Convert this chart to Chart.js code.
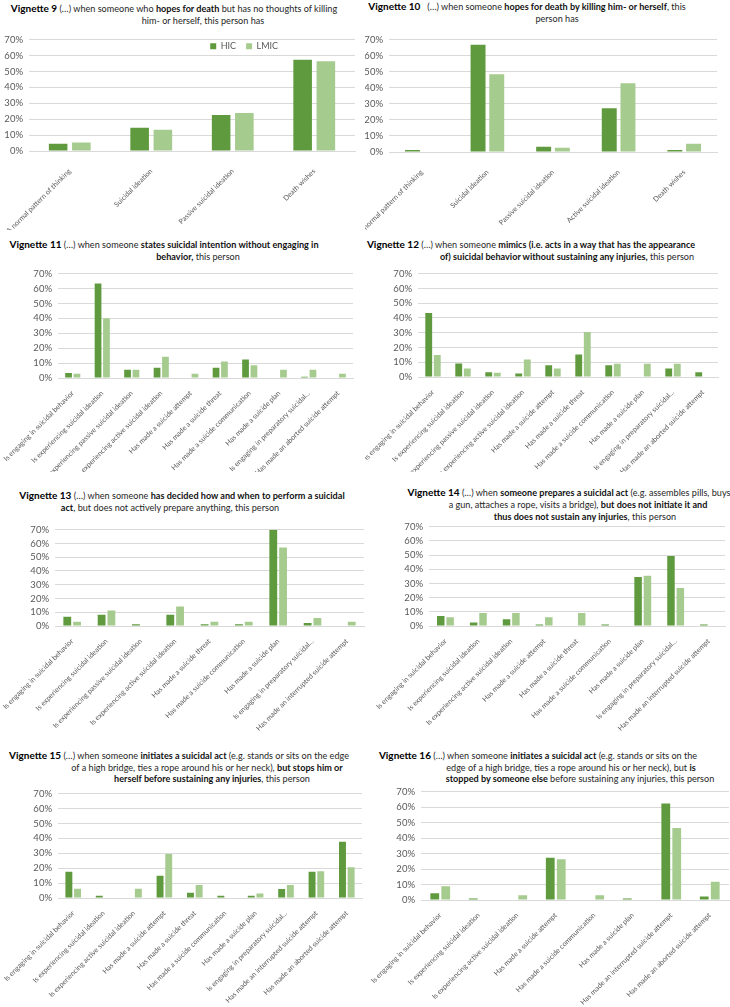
<!DOCTYPE html>
<html>
<head>
<meta charset="utf-8">
<script src="https://cdn.jsdelivr.net/npm/chart.js@4.4.1/dist/chart.umd.min.js"></script>
<style>
  body { margin: 0; background: #fff; width: 730px; height: 1007px; position: relative; overflow: hidden; font-family: Lato, "Open Sans", sans-serif; }
  .ln { position: absolute; transform: translate(-50%, -50%); white-space: nowrap; font-size: 9.1px; color: #262626; }
  .ln .v { font-weight: bold; font-size: 10px; color: #000; }
  .ln b { color: #111; }
  .box { position: absolute; }
</style>
</head>
<body>

<!-- titulos de cada vineta -->
<div class="ln" style="left:174px;top:7.5px"><span class="v">Vignette 9</span> (…) when someone who <b>hopes for death</b> but has no thoughts of killing</div>
<div class="ln" style="left:203px;top:19.5px">him- or herself, this person has</div>

<div class="ln" style="left:527px;top:5.5px"><span class="v">Vignette 10</span>&nbsp;&nbsp; (…) when someone <b>hopes for death by killing him- or herself</b>, this</div>
<div class="ln" style="left:557px;top:17.5px">person has</div>

<div class="ln" style="left:164px;top:244px"><span class="v">Vignette 11</span> (…) when someone <b>states suicidal intention without engaging in</b></div>
<div class="ln" style="left:198px;top:256px"><b>behavior,</b> this person</div>

<div class="ln" style="left:531px;top:244px"><span class="v">Vignette 12</span> (…) when someone <b>mimics (i.e. acts in a way that has the appearance</b></div>
<div class="ln" style="left:567px;top:256px"><b>of) suicidal behavior without sustaining any injuries,</b> this person</div>

<div class="ln" style="left:182px;top:495px"><span class="v">Vignette 13</span> (…) when someone <b>has decided how and when to perform a suicidal</b></div>
<div class="ln" style="left:170px;top:507px"><b>act</b>, but does not actively prepare anything, this person</div>

<div class="ln" style="left:569px;top:492px"><span class="v">Vignette 14</span> (…) when <b>someone prepares a suicidal act</b> (e.g. assembles pills, buys</div>
<div class="ln" style="left:578px;top:504px">a gun, attaches a rope, visits a bridge), <b>but does not initiate it and</b></div>
<div class="ln" style="left:585px;top:516px"><b>thus does not sustain any injuries</b>, this person</div>

<div class="ln" style="left:179px;top:755px"><span class="v">Vignette 15</span> (…) when someone <b>initiates a suicidal act</b> (e.g. stands or sits on the edge</div>
<div class="ln" style="left:207px;top:767px">of a high bridge, ties a rope around his or her neck), <b>but stops him or</b></div>
<div class="ln" style="left:212px;top:778px"><b>herself before sustaining any injuries</b>, this person</div>

<div class="ln" style="left:538px;top:755px"><span class="v">Vignette 16</span> (…) when someone <b>initiates a suicidal act</b> (e.g. stands or sits on the</div>
<div class="ln" style="left:571px;top:767px">edge of a high bridge, ties a rope around his or her neck), but <b>is</b></div>
<div class="ln" style="left:580px;top:778px"><b>stopped by someone else</b> before sustaining any injuries, this person</div>

<script>
// Datos (porcentajes)
const vignette9Labels = ['A normal pattern of thinking', 'Suicidal ideation', 'Passive suicidal ideation', 'Death wishes'];
const vignette9Hic = [4.5, 14.6, 22.7, 57.4];
const vignette9Lmic = [5.3, 13.4, 23.9, 56.4];

const vignette10Labels = ['A normal pattern of thinking', 'Suicidal ideation', 'Passive suicidal ideation', 'Active suicidal ideation', 'Death wishes'];
const vignette10Hic = [1.2, 66.9, 3.2, 27.3, 1.2];
const vignette10Lmic = [0, 48.5, 2.6, 42.9, 5.2];

const vignette11Labels = ['Is engaging in suicidal behavior', 'Is experiencing suicidal ideation', 'Is experiencing passive suicidal ideation', 'Is experiencing active suicidal ideation', 'Has made a suicide attempt', 'Has made a suicide threat', 'Has made a suicide communication', 'Has made a suicide plan', 'Is engaging in preparatory suicidal…', 'Has made an aborted suicide attempt'];
const vignette11Hic = [3.4, 63.5, 5.5, 6.8, 0, 6.8, 12.4, 0, 0.9, 0];
const vignette11Lmic = [2.8, 40.1, 5.5, 14.3, 2.8, 11.1, 8.5, 5.5, 5.5, 2.8];

const vignette12Labels = ['Is engaging in suicidal behavior', 'Is experiencing suicidal ideation', 'Is experiencing passive suicidal ideation', 'Is experiencing active suicidal ideation', 'Has made a suicide attempt', 'Has made a suicide threat', 'Has made a suicide communication', 'Has made a suicide plan', 'Is engaging in preparatory suicidal…', 'Has made an aborted suicide attempt'];
const vignette12Hic = [43.4, 9.1, 3.2, 2.4, 8.0, 15.3, 8.0, 0, 5.8, 3.2];
const vignette12Lmic = [14.9, 5.8, 2.8, 11.9, 5.8, 30.5, 8.9, 8.9, 8.9, 0];

const vignette13Labels = ['Is engaging in suicidal behavior', 'Is experiencing suicidal ideation', 'Is experiencing passive suicidal ideation', 'Is experiencing active suicidal ideation', 'Has made a suicide threat', 'Has made a suicide communication', 'Has made a suicide plan', 'Is engaging in preparatory suicidal…', 'Has made an interrupted suicide attempt'];
const vignette13Hic = [6.7, 8.1, 1.2, 8.1, 1.2, 1.2, 70.0, 2.1, 0];
const vignette13Lmic = [3.0, 11.3, 0, 14.1, 3.0, 3.0, 57.0, 5.8, 3.0];

const vignette14Labels = ['Is engaging in suicidal behavior', 'Is experiencing suicidal ideation', 'Is experiencing active suicidal ideation', 'Has made a suicide attempt', 'Has made a suicide threat', 'Has made a suicide communication', 'Has made a suicide plan', 'Is engaging in preparatory suicidal…', 'Has made an interrupted suicide attempt'];
const vignette14Hic = [7.0, 2.5, 4.7, 1.1, 0, 1.1, 34.5, 49.3, 1.1];
const vignette14Lmic = [6.1, 9.2, 9.2, 6.1, 9.2, 0, 35.4, 26.8, 0];

const vignette15Labels = ['Is engaging in suicidal behavior', 'Is experiencing suicidal ideation', 'Is experiencing active suicidal ideation', 'Has made a suicide attempt', 'Has made a suicide threat', 'Has made a suicide communication', 'Has made a suicide plan', 'Is engaging in preparatory suicidal…', 'Has made an interrupted suicide attempt', 'Has made an aborted suicide attempt'];
const vignette15Hic = [17.6, 1.5, 0, 15.0, 3.6, 1.5, 1.5, 6.0, 17.6, 37.7];
const vignette15Lmic = [6.2, 0, 6.2, 29.6, 8.8, 0, 3.0, 8.8, 18.0, 20.6];

const vignette16Labels = ['Is engaging in suicidal behavior', 'Is experiencing suicidal ideation', 'Is experiencing active suicidal ideation', 'Has made a suicide attempt', 'Has made a suicide communication', 'Has made a suicide plan', 'Has made an interrupted suicide attempt', 'Has made an aborted suicide attempt'];
const vignette16Hic = [4.3, 1.0, 0, 27.3, 0, 1.0, 62.3, 2.3];
const vignette16Lmic = [8.9, 0, 3.1, 26.3, 3.1, 0, 46.6, 11.8];

const seriesNames = ['HIC', 'LMIC'];
const yMax = 70;
const yStep = 10;

const HIC_COLOR = '#5f9b3e';
const LMIC_COLOR = '#a6cb8f';

Chart.defaults.font.family = 'Lato, "Open Sans", sans-serif';
Chart.defaults.color = '#595959';

// leyenda dentro del area del grafico (solo vineta 9)
const legendInside = {
  id: 'legendInside',
  beforeInit(chart) {
    const fit = chart.legend.fit;
    chart.legend.fit = function () { fit.call(this); this.height = 0; };
  },
  afterLayout(chart) {
    const l = chart.legend, ca = chart.chartArea;
    const cx = ca.left + (ca.right - ca.left) * 0.66;
    l.left = cx - 70; l.right = cx + 70; l.width = 140;
    l.top = ca.top - 8; l.height = 26; l.bottom = l.top + 26;
  }
};

// posiciones en la pagina: canvas y area de trazado
function drawVignette(p) {
  const wrap = document.createElement('div');
  wrap.className = 'box';
  wrap.style.left = p.left + 'px';
  wrap.style.top = p.top + 'px';
  const cv = document.createElement('canvas');
  cv.width = p.width;
  cv.height = p.height;
  wrap.appendChild(cv);
  document.body.appendChild(wrap);

  const yW = p.plotLeft - p.left;
  const xH = p.top + p.height - p.plotBottom;

  new Chart(cv.getContext('2d'), {
    type: 'bar',
    data: {
      labels: p.labels,
      datasets: [
        { label: seriesNames[0], data: p.hic, backgroundColor: HIC_COLOR, categoryPercentage: 0.57, barPercentage: 0.8 },
        { label: seriesNames[1], data: p.lmic, backgroundColor: LMIC_COLOR, categoryPercentage: 0.57, barPercentage: 0.8 }
      ]
    },
    options: {
      responsive: false,
      animation: false,
      layout: { padding: { top: p.plotTop - p.top, right: p.left + p.width - p.plotRight, left: 0, bottom: 0 } },
      plugins: {
        tooltip: { enabled: false },
        legend: {
          display: !!p.legend,
          align: 'center',
          labels: { boxWidth: 6, boxHeight: 6, padding: 10, color: '#595959', font: { size: 9 } }
        }
      },
      scales: {
        x: {
          grid: { display: false },
          border: { color: '#d9d9d9' },
          ticks: { autoSkip: false, minRotation: 45, maxRotation: 45, padding: p.labelPad || 3, font: { size: 7.1 } },
          afterFit(s) { s.height = xH; s.paddingLeft = 0; s.paddingRight = 0; }
        },
        y: {
          min: 0,
          max: yMax,
          grid: { color: '#d9d9d9', drawTicks: false },
          border: { display: false },
          ticks: { stepSize: yStep, autoSkip: false, padding: 6, font: { size: 9.5 }, callback: v => v + '%' },
          afterFit(s) { s.width = yW; }
        }
      }
    },
    plugins: p.legend ? [legendInside] : []
  });
}

drawVignette({ labels: vignette9Labels, hic: vignette9Hic, lmic: vignette9Lmic, legend: true, labelPad: 8,
  left: 0, top: 28, width: 362, height: 202, plotLeft: 29, plotRight: 355, plotTop: 36, plotBottom: 151 });
drawVignette({ labels: vignette10Labels, hic: vignette10Hic, lmic: vignette10Lmic, labelPad: 8,
  left: 365, top: 28, width: 362, height: 202, plotLeft: 389, plotRight: 717, plotTop: 36, plotBottom: 152 });
drawVignette({ labels: vignette11Labels, hic: vignette11Hic, lmic: vignette11Lmic,
  left: 0, top: 262, width: 362, height: 210, plotLeft: 58, plotRight: 353, plotTop: 269, plotBottom: 378 });
drawVignette({ labels: vignette12Labels, hic: vignette12Hic, lmic: vignette12Lmic,
  left: 365, top: 262, width: 362, height: 210, plotLeft: 418, plotRight: 718, plotTop: 269, plotBottom: 377 });
drawVignette({ labels: vignette13Labels, hic: vignette13Hic, lmic: vignette13Lmic,
  left: 0, top: 518, width: 365, height: 230, plotLeft: 55, plotRight: 364, plotTop: 525, plotBottom: 626 });
drawVignette({ labels: vignette14Labels, hic: vignette14Hic, lmic: vignette14Lmic,
  left: 365, top: 515, width: 365, height: 233, plotLeft: 429, plotRight: 725, plotTop: 522, plotBottom: 626 });
drawVignette({ labels: vignette15Labels, hic: vignette15Hic, lmic: vignette15Lmic,
  left: 0, top: 782, width: 364, height: 225, plotLeft: 58, plotRight: 362, plotTop: 790, plotBottom: 898 });
drawVignette({ labels: vignette16Labels, hic: vignette16Hic, lmic: vignette16Lmic,
  left: 365, top: 780, width: 365, height: 227, plotLeft: 421, plotRight: 729, plotTop: 789, plotBottom: 900 });
</script>
</body>
</html>
